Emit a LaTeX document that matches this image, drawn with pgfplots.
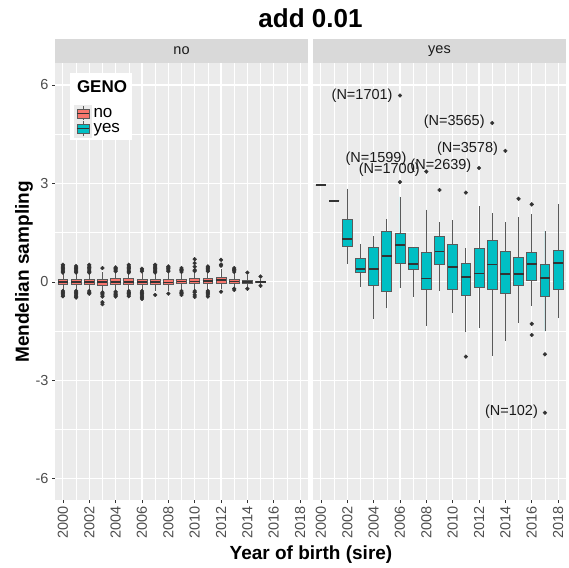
\documentclass[border=0pt]{standalone}
\usepackage{fontspec}
\setmainfont{Liberation Sans}
\usepackage{pgfplots}
\pgfplotsset{compat=1.18}
\usepgfplotslibrary{statistics}

\definecolor{noc}{HTML}{F8766D}
\definecolor{yesc}{HTML}{00BFC4}
\definecolor{panelbg}{HTML}{EBEBEB}
\definecolor{stripbg}{HTML}{D9D9D9}
\definecolor{boxc}{HTML}{333333}
\definecolor{edgec}{HTML}{5A5A5A}
\definecolor{ticklab}{HTML}{4D4D4D}
\definecolor{txt}{HTML}{1A1A1A}

\newcommand{\tickfont}{\fontsize{14.5}{16}\selectfont}

% x is the year minus 2000
\pgfplotsset{
  panel/.style={
    scale only axis, width=253pt, height=437pt,
    xmin=-0.6, xmax=18.6, ymin=-6.65, ymax=6.67,
    axis background/.style={fill=panelbg},
    axis line style={draw=none},
    xtick={0,2,...,18}, minor xtick={1,3,...,17},
    xticklabels={2000,2002,2004,2006,2008,2010,2012,2014,2016,2018},
    ytick={-6,-3,0,3,6}, minor ytick={-4.5,-1.5,1.5,4.5},
    grid=both,
    major grid style={white, line width=1.1pt},
    minor grid style={white, line width=0.55pt},
    tick align=outside, tick pos=left,
    major tick length=3pt, minor tick length=0pt,
    tick style={color=boxc, line width=0.5pt},
    /pgf/number format/assume math mode=true,
    xticklabel style={rotate=90, anchor=east, font=\tickfont, color=ticklab},
    yticklabel style={font=\tickfont, color=ticklab},
  },
  bx/.style={forget plot, draw=edgec, line width=0.75pt, solid,
    boxplot/draw direction=y,
    boxplot/box extend=0.75, boxplot/whisker extend=0,
    boxplot/every median/.style={draw=boxc, line width=1.7pt}},
  out/.style={forget plot, only marks, mark=*, mark size=1.9pt,
    mark options={fill=boxc, draw=boxc}},
  genono/.style={legend image code/.code={
    \fill[panelbg] (0pt,-8.5pt) rectangle (17pt,8.5pt);
    \draw[edgec, line width=0.6pt] (8.5pt,-7.5pt)--(8.5pt,-4.5pt) (8.5pt,4.5pt)--(8.5pt,7.5pt);
    \draw[edgec, fill=noc, line width=0.6pt] (2.5pt,-4.5pt) rectangle (14.5pt,4.5pt);
    \draw[boxc, line width=1.2pt] (2.5pt,0pt)--(14.5pt,0pt);}},
  genoyes/.style={legend image code/.code={
    \fill[panelbg] (0pt,-8.5pt) rectangle (17pt,8.5pt);
    \draw[edgec, line width=0.6pt] (8.5pt,-7.5pt)--(8.5pt,-4.5pt) (8.5pt,4.5pt)--(8.5pt,7.5pt);
    \draw[edgec, fill=yesc, line width=0.6pt] (2.5pt,-4.5pt) rectangle (14.5pt,4.5pt);
    \draw[boxc, line width=1.2pt] (2.5pt,0pt)--(14.5pt,0pt);}},
}

\begin{document}
\begin{tikzpicture}
% ---------------- GENO = no ----------------
\begin{axis}[panel, at={(0pt,0pt)}, anchor=south west,
  legend style={at={(axis description cs:0.059,0.905)}, anchor=north west,
    fill=none, draw=none, font=\fontsize{17}{18}\selectfont,
    inner xsep=4pt, inner ysep=0pt, row sep=-2pt, cells={anchor=west}},
]
% legend background and title
\fill[white] (rel axis cs:0.059,0.977) rectangle (rel axis cs:0.304,0.824);
\node[anchor=west, text=black, font=\bfseries\fontsize{17}{18}\selectfont]
  at (rel axis cs:0.073,0.947) {GENO};
\addplot[bx, fill=noc, boxplot prepared={draw position=0, lower whisker=-0.25, lower quartile=-0.07, median=0, upper quartile=0.08, upper whisker=0.26}] coordinates {};
\addplot[bx, fill=noc, boxplot prepared={draw position=1, lower whisker=-0.25, lower quartile=-0.07, median=0, upper quartile=0.08, upper whisker=0.26}] coordinates {};
\addplot[bx, fill=noc, boxplot prepared={draw position=2, lower whisker=-0.25, lower quartile=-0.08, median=-0.01, upper quartile=0.07, upper whisker=0.26}] coordinates {};
\addplot[bx, fill=noc, boxplot prepared={draw position=3, lower whisker=-0.28, lower quartile=-0.10, median=-0.01, upper quartile=0.08, upper whisker=0.30}] coordinates {};
\addplot[bx, fill=noc, boxplot prepared={draw position=4, lower whisker=-0.26, lower quartile=-0.08, median=0, upper quartile=0.09, upper whisker=0.28}] coordinates {};
\addplot[bx, fill=noc, boxplot prepared={draw position=5, lower whisker=-0.25, lower quartile=-0.08, median=0, upper quartile=0.09, upper whisker=0.26}] coordinates {};
\addplot[bx, fill=noc, boxplot prepared={draw position=6, lower whisker=-0.25, lower quartile=-0.08, median=0, upper quartile=0.08, upper whisker=0.28}] coordinates {};
\addplot[bx, fill=noc, boxplot prepared={draw position=7, lower whisker=-0.27, lower quartile=-0.09, median=-0.01, upper quartile=0.08, upper whisker=0.26}] coordinates {};
\addplot[bx, fill=noc, boxplot prepared={draw position=8, lower whisker=-0.27, lower quartile=-0.09, median=-0.02, upper quartile=0.08, upper whisker=0.28}] coordinates {};
\addplot[bx, fill=noc, boxplot prepared={draw position=9, lower whisker=-0.24, lower quartile=-0.06, median=0.01, upper quartile=0.08, upper whisker=0.27}] coordinates {};
\addplot[bx, fill=noc, boxplot prepared={draw position=10, lower whisker=-0.25, lower quartile=-0.06, median=0.01, upper quartile=0.09, upper whisker=0.29}] coordinates {};
\addplot[bx, fill=noc, boxplot prepared={draw position=11, lower whisker=-0.25, lower quartile=-0.05, median=0.02, upper quartile=0.10, upper whisker=0.29}] coordinates {};
\addplot[bx, fill=noc, boxplot prepared={draw position=12, lower whisker=-0.22, lower quartile=-0.04, median=0.05, upper quartile=0.13, upper whisker=0.38}] coordinates {};
\addplot[bx, fill=noc, boxplot prepared={draw position=13, lower whisker=-0.18, lower quartile=-0.05, median=0.01, upper quartile=0.08, upper whisker=0.26}] coordinates {};
\addplot[bx, fill=noc, boxplot prepared={draw position=14, lower whisker=-0.15, lower quartile=-0.04, median=0, upper quartile=0.05, upper whisker=0.20}] coordinates {};
\addplot[bx, fill=noc, boxplot prepared={draw position=15, lower whisker=-0.08, lower quartile=-0.03, median=0, upper quartile=0.02, upper whisker=0.10}] coordinates {};
% outliers
\addplot[out] coordinates {
  (0,0.28) (0,0.32) (0,0.36) (0,0.40) (0,0.44) (0,0.48) (0,0.52)
  (0,-0.28) (0,-0.32) (0,-0.36) (0,-0.40) (0,-0.44)
  (1,0.28) (1,0.32) (1,0.36) (1,0.40) (1,0.44) (1,0.48)
  (1,-0.28) (1,-0.32) (1,-0.36) (1,-0.40) (1,-0.44) (1,-0.48)
  (2,0.28) (2,0.32) (2,0.36) (2,0.40) (2,0.44) (2,0.48) (2,0.52)
  (2,-0.28) (2,-0.32) (2,-0.36)
  (3,0.42) (3,-0.32) (3,-0.36) (3,-0.40) (3,-0.45) (3,-0.62) (3,-0.68)
  (4,0.32) (4,0.36) (4,0.40) (4,0.44)
  (4,-0.30) (4,-0.34) (4,-0.38) (4,-0.42) (4,-0.45)
  (5,0.28) (5,0.32) (5,0.36) (5,0.40) (5,0.44) (5,0.48) (5,0.52)
  (5,-0.28) (5,-0.32) (5,-0.36) (5,-0.40) (5,-0.44)
  (6,0.32) (6,0.36) (6,0.40)
  (6,-0.28) (6,-0.32) (6,-0.36) (6,-0.40) (6,-0.44) (6,-0.48) (6,-0.52)
  (7,0.28) (7,0.32) (7,0.36) (7,0.40) (7,0.44) (7,0.48) (7,0.52)
  (7,-0.40)
  (8,0.32) (8,0.36) (8,0.40) (8,0.44) (8,0.47) (8,-0.36)
  (9,0.30) (9,0.34) (9,0.38) (9,0.42)
  (9,-0.28) (9,-0.32) (9,-0.36) (9,-0.40)
  (10,0.33) (10,0.36) (10,0.46) (10,0.57) (10,0.69)
  (10,-0.28) (10,-0.32) (10,-0.40) (10,-0.46)
  (11,0.32) (11,0.36) (11,0.40) (11,0.44) (11,0.47)
  (11,-0.28) (11,-0.32) (11,-0.36) (11,-0.40) (11,-0.45)
  (12,0.49) (12,0.53) (12,0.67) (12,-0.30)
  (13,0.30) (13,0.34) (13,0.38) (13,0.42) (13,-0.21) (13,-0.25)
  (14,0.28) (14,-0.21)
  (15,0.16) (15,-0.12)
};
\addlegendimage{genono}
\addlegendentry{no}
\addlegendimage{genoyes}
\addlegendentry{yes}
\end{axis}

% ---------------- GENO = yes ----------------
\begin{axis}[panel, at={(258pt,0pt)}, anchor=south west,
  yticklabels={}, ytick style={draw=none}, clip=false]
\addplot[bx, fill=yesc, boxplot prepared={draw position=0, lower whisker=2.95, lower quartile=2.95, median=2.95, upper quartile=2.95, upper whisker=2.95}] coordinates {};
\addplot[bx, fill=yesc, boxplot prepared={draw position=1, lower whisker=2.47, lower quartile=2.47, median=2.47, upper quartile=2.47, upper whisker=2.47}] coordinates {};
\addplot[bx, fill=yesc, boxplot prepared={draw position=2, lower whisker=0.55, lower quartile=1.08, median=1.30, upper quartile=1.89, upper whisker=2.84}] coordinates {};
\addplot[bx, fill=yesc, boxplot prepared={draw position=3, lower whisker=-0.16, lower quartile=0.29, median=0.39, upper quartile=0.72, upper whisker=1.16}] coordinates {};
\addplot[bx, fill=yesc, boxplot prepared={draw position=4, lower whisker=-1.14, lower quartile=-0.10, median=0.40, upper quartile=1.05, upper whisker=1.40}] coordinates {};
\addplot[bx, fill=yesc, boxplot prepared={draw position=5, lower whisker=-0.81, lower quartile=-0.30, median=0.79, upper quartile=1.55, upper whisker=1.91}] coordinates {};
\addplot[bx, fill=yesc, boxplot prepared={draw position=6, lower whisker=-0.20, lower quartile=0.55, median=1.12, upper quartile=1.47, upper whisker=2.60}] coordinates {};
\addplot[bx, fill=yesc, boxplot prepared={draw position=7, lower whisker=-0.45, lower quartile=0.37, median=0.54, upper quartile=1.05, upper whisker=1.05}] coordinates {};
\addplot[bx, fill=yesc, boxplot prepared={draw position=8, lower whisker=-1.34, lower quartile=-0.24, median=0.10, upper quartile=0.90, upper whisker=2.20}] coordinates {};
\addplot[bx, fill=yesc, boxplot prepared={draw position=9, lower whisker=-0.28, lower quartile=0.52, median=0.92, upper quartile=1.38, upper whisker=1.82}] coordinates {};
\addplot[bx, fill=yesc, boxplot prepared={draw position=10, lower whisker=-0.94, lower quartile=-0.22, median=0.46, upper quartile=1.15, upper whisker=1.87}] coordinates {};
\addplot[bx, fill=yesc, boxplot prepared={draw position=11, lower whisker=-1.53, lower quartile=-0.42, median=0.15, upper quartile=0.57, upper whisker=1.03}] coordinates {};
\addplot[bx, fill=yesc, boxplot prepared={draw position=12, lower whisker=-1.42, lower quartile=-0.18, median=0.25, upper quartile=1.03, upper whisker=2.30}] coordinates {};
\addplot[bx, fill=yesc, boxplot prepared={draw position=13, lower whisker=-2.26, lower quartile=-0.22, median=0.53, upper quartile=1.27, upper whisker=2.09}] coordinates {};
\addplot[bx, fill=yesc, boxplot prepared={draw position=14, lower whisker=-1.80, lower quartile=-0.36, median=0.24, upper quartile=0.94, upper whisker=1.82}] coordinates {};
\addplot[bx, fill=yesc, boxplot prepared={draw position=15, lower whisker=-1.24, lower quartile=-0.12, median=0.23, upper quartile=0.75, upper whisker=1.97}] coordinates {};
\addplot[bx, fill=yesc, boxplot prepared={draw position=16, lower whisker=-0.73, lower quartile=0.05, median=0.54, upper quartile=0.89, upper whisker=2.06}] coordinates {};
\addplot[bx, fill=yesc, boxplot prepared={draw position=17, lower whisker=-1.51, lower quartile=-0.44, median=0.11, upper quartile=0.54, upper whisker=1.55}] coordinates {};
\addplot[bx, fill=yesc, boxplot prepared={draw position=18, lower whisker=-1.11, lower quartile=-0.22, median=0.57, upper quartile=0.97, upper whisker=2.37}] coordinates {};
% outliers
\addplot[out] coordinates {
  (6,3.04) (6,5.68) (8,3.36) (9,2.80) (11,2.72) (11,-2.28)
  (12,3.47) (13,4.84) (14,3.99) (15,2.53)
  (16,2.36) (16,-1.28) (16,-1.62) (17,-2.21) (17,-3.99)
};
% outlier labels
\begin{scope}[every node/.style={anchor=east, inner sep=0pt, text=txt,
    font=\fontsize{14.5}{16}\selectfont}]
\node at (axis cs:5.45,5.68) {(N=1701)};
\node at (axis cs:12.44,4.89) {(N=3565)};
\node at (axis cs:13.45,4.05) {(N=3578)};
\node at (axis cs:6.50,3.76) {(N=1599)};
\node at (axis cs:7.51,3.41) {(N=1700)};
\node at (axis cs:11.43,3.54) {(N=2639)};
\node at (axis cs:16.48,-3.97) {(N=102)};
\end{scope}
\end{axis}

% facet strips, titles
\fill[stripbg] (0pt,437pt) rectangle (253pt,461pt);
\fill[stripbg] (258pt,437pt) rectangle (511pt,461pt);
\node[text=txt, font=\fontsize{14.5}{16}\selectfont] at (126.5pt,449pt) {no};
\node[text=txt, font=\fontsize{14.5}{16}\selectfont] at (384.5pt,449pt) {yes};
\node[font=\bfseries\fontsize{26}{30}\selectfont] at (255.5pt,482pt) {add 0.01};
\node[rotate=90, font=\bfseries\fontsize{19}{22}\selectfont] at (-31pt,228pt) {Mendelian sampling};
\node[font=\bfseries\fontsize{19}{22}\selectfont] at (256pt,-55pt) {Year of birth (sire)};

\pgfresetboundingbox
\path (-55pt,-67pt) rectangle (514pt,500pt);
\end{tikzpicture}
\end{document}
